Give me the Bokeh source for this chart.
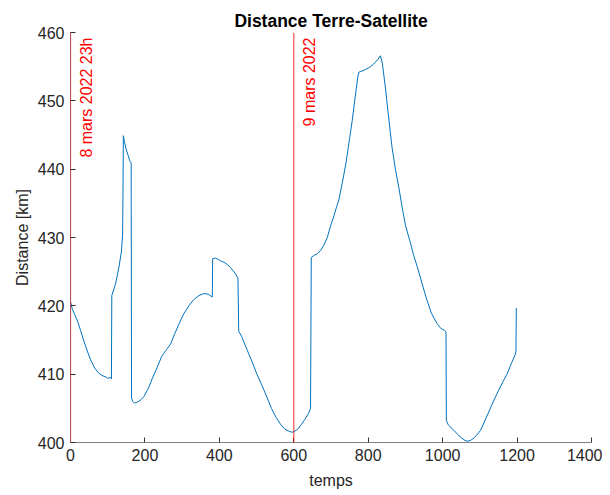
import math
from bokeh.plotting import figure
from bokeh.models import Range1d, FixedTicker, Span, Label, ColumnDataSource
from bokeh.embed import file_html
from bokeh.resources import INLINE

# ---- data ----
temps = [0, 5, 10, 20, 27, 35, 45, 54, 65, 75, 85, 95, 100, 107, 110,
         111, 121, 130, 137, 140, 141, 142, 145, 150, 155, 160, 163,
         164, 167, 172, 180, 190, 197, 210, 220, 233, 245, 258, 269, 280,
         292, 304, 318, 331, 345, 358, 370, 381,
         382, 390, 403, 418, 430, 442, 450,
         452, 460, 475, 488, 501, 515, 528, 540, 552, 564, 575, 585, 595,
         600, 610, 620, 630, 640, 645,
         647, 655, 663, 672, 680, 690, 700, 707, 715, 721, 730, 740, 750,
         757, 765, 772, 775, 780, 790, 800, 806, 815, 825, 833,
         838, 846, 855, 864, 873, 882, 890, 900, 914, 922, 932, 945, 958,
         970, 985, 995, 1005, 1009,
         1010, 1015, 1020, 1030, 1040, 1050, 1060, 1066, 1075, 1085, 1095,
         1102, 1112, 1125, 1137, 1150, 1162, 1173, 1185, 1196, 1197,
         1198, 1200]
distance = [420.6, 419.5, 418.9, 417.6, 416.4, 415.0, 413.4, 412.1, 410.9, 410.2, 409.8, 409.6, 409.4, 409.5, 409.3,
            421.5, 423.2, 425.6, 428.0, 430.5, 436.0, 444.9, 444.0, 442.8, 442.0, 441.1, 441.0,
            406.5, 406.0, 405.8, 405.9, 406.3, 406.7, 408.0, 409.4, 411.0, 412.6, 413.6, 414.4, 415.9,
            417.4, 418.8, 420.0, 420.9, 421.5, 421.8, 421.7, 421.3,
            426.9, 427.0, 426.6, 426.2, 425.6, 424.8, 424.0,
            416.3, 415.5, 413.5, 411.8, 410.0, 408.3, 406.6, 405.0, 403.7, 402.7, 402.0, 401.7, 401.5,
            401.6, 401.9, 402.6, 403.4, 404.3, 405.0,
            427.1, 427.4, 427.6, 428.1, 428.8, 430.0, 431.9, 433.0, 434.5, 435.5, 437.9, 440.8, 444.5,
            447.1, 450.6, 453.5, 454.2, 454.3, 454.5, 454.8, 455.0, 455.4, 456.0, 456.6,
            455.5, 452.0, 447.5, 443.2, 440.0, 437.4, 434.8, 431.8, 429.1, 427.4, 425.7, 423.2, 420.8,
            418.9, 417.4, 416.7, 416.4, 416.2,
            403.2, 402.6, 402.3, 401.8, 401.2, 400.7, 400.3, 400.2, 400.3, 400.7, 401.3,
            401.8, 403.0, 404.6, 406.1, 407.6, 408.9, 410.0, 411.6, 413.0, 413.5,
            419.6, 419.6]

event_x = [0, 600]
event_labels = ["8 mars 2022 23h", "9 mars 2022"]

x_ticks = [0, 200, 400, 600, 800, 1000, 1200, 1400]
y_ticks = [400, 410, 420, 430, 440, 450, 460]

FONT = "Liberation Sans"
TXT = "#262626"

p = figure(width=602, height=494, output_backend="svg", toolbar_location=None,
           x_range=Range1d(0, 1400), y_range=Range1d(400, 460),
           min_border_left=70, min_border_right=11, min_border_top=32, min_border_bottom=52,
           title="Distance Terre-Satellite")
p.outline_line_color = None
p.xgrid.visible = False
p.ygrid.visible = False
p.background_fill_color = "white"

p.title.align = "center"
p.title.text_font = FONT
p.title.text_font_size = "17.5px"
p.title.text_font_style = "bold"
p.title.text_color = "black"
p.title.standoff = 4

src = ColumnDataSource(data=dict(x=temps, y=distance))
p.line("x", "y", source=src, line_color="#0072BD", line_width=1)

for xv, lab in zip(event_x, event_labels):
    p.add_layout(Span(location=xv, dimension="height", line_color="red",
                      line_alpha=0.7, line_width=1.2))
    p.add_layout(Label(x=xv, y=460, x_offset=7, y_offset=-5, text=lab,
                       angle=math.pi / 2, text_align="right", text_baseline="top",
                       text_color="red", text_font=FONT, text_font_size="16px"))

for ax in (p.xaxis[0], p.yaxis[0]):
    ax.axis_line_color = "#808080"
    ax.axis_line_width = 1
    ax.major_tick_line_color = "#303030"
    ax.major_tick_in = 5
    ax.major_tick_out = 0
    ax.minor_tick_line_color = None
    ax.major_label_text_font = FONT
    ax.major_label_text_font_size = "16px"
    ax.major_label_text_color = TXT
    ax.axis_label_text_font = FONT
    ax.axis_label_text_font_size = "16px"
    ax.axis_label_text_color = TXT
    ax.axis_label_text_font_style = "normal"

p.xaxis.ticker = FixedTicker(ticks=x_ticks)
p.yaxis.ticker = FixedTicker(ticks=y_ticks)
p.xaxis.axis_label = "temps"
p.yaxis.axis_label = "Distance [km]"
p.xaxis.major_label_standoff = 6
p.yaxis.major_label_standoff = 6
p.xaxis.axis_label_standoff = 8
p.yaxis.axis_label_standoff = 4

open("out.html", "w").write(file_html(p, INLINE))
